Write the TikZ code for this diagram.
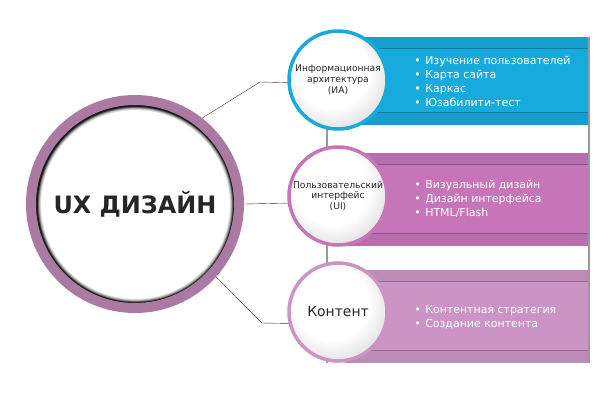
\documentclass[tikz,border=0pt]{standalone}
\usepackage{fontspec}
\setmainfont{DejaVu Sans}
\usepackage{tikz}
\usetikzlibrary{positioning}

\definecolor{iablue}{HTML}{17AADD}
\definecolor{uipurple}{HTML}{C675B9}
\definecolor{kpink}{HTML}{CC94C4}
\definecolor{uxring}{HTML}{AA7AA3}
\pgfdeclareradialshading{uxball}{\pgfpoint{0bp}{0bp}}{color(0bp)=(white); color(22.6bp)=(white); color(23.2bp)=(black!40); color(23.5bp)=(black!90); color(50bp)=(black)}
\pgfdeclareradialshading{subball}{\pgfpoint{-5bp}{7bp}}{color(0bp)=(white); color(19bp)=(white); color(31bp)=(black!14); color(50bp)=(black!14)}
\newcommand{\itm}{\makebox[11bp][l]{•}}

\begin{document}
\begin{tikzpicture}[x=1bp,y=-1bp,semithick]
\tikzstyle{sub}=[circle,shading=subball,line width=3.5bp,minimum size=98bp,inner sep=0pt,align=center,text=black!85,font=\fontsize{9.2}{10.8}\selectfont]
\tikzstyle{items}=[anchor=west,align=left,text=white,inner sep=0pt,font=\fontsize{11}{14}\selectfont]
\useasboundingbox (0,0) rectangle (600,400);

% panel behind the bands
\fill[white] (327,37) rectangle (589,363);
\draw[black!40,line width=1.5bp] (327,37) -- (327,363);
\draw[black!40,line width=1.5bp] (589,37) -- (589,363);

% bands
\foreach \col/\ya/\yb in {iablue/37/125,uipurple/153/246,kpink/270/363}{
  \fill[\col] (345,\ya) rectangle (588,\yb);
  \fill[\col!93!black] (345,\ya) rectangle (588,\ya+11);
  \fill[\col!93!black] (345,\yb-13) rectangle (588,\yb);
  \draw[\col!72!black,line width=1bp] (345,\ya+11) -- (588,\ya+11);
  \draw[\col!72!black,line width=1bp] (345,\yb-13) -- (588,\yb-13);
}

\node[circle,shading=uxball,draw=uxring,line width=10bp,minimum size=208bp,inner sep=0pt,
  font=\fontsize{24}{28}\bfseries\selectfont,text=black!85] (UX) at (135,204) {UX ДИЗАЙН};
\node[sub,draw=iablue] (IA) at (338,80) {Информационная\\архитектура\\(ИА)};
\node[sub,draw=uipurple] (UI) at (338,196) {Пользовательский\\интерфейс\\(UI)};
\node[sub,draw=kpink,font=\fontsize{14}{16}\selectfont] (K) at (338,312) {Контент};

\node[items] (IAlist) at (414,81) {\itm Изучение пользователей\\\itm Карта сайта\\\itm Каркас\\\itm Юзабилити-тест};
\node[items] (UIlist) at (414,199) {\itm Визуальный дизайн\\\itm Дизайн интерфейса\\\itm HTML/Flash};
\node[items] (Klist) at (414,317) {\itm Контентная стратегия\\\itm Создание контента};

\coordinate (c1) at (260,82);
\coordinate (c3) at (262,323);
\draw[black!80,thin] (UX.52) -- (c1) -- (IA.183);
\draw[black!80,thin] (UX.east) -- (UI.188);
\draw[black!80,thin] (UX.-42) -- (c3) -- (K.193);
\end{tikzpicture}
\end{document}
